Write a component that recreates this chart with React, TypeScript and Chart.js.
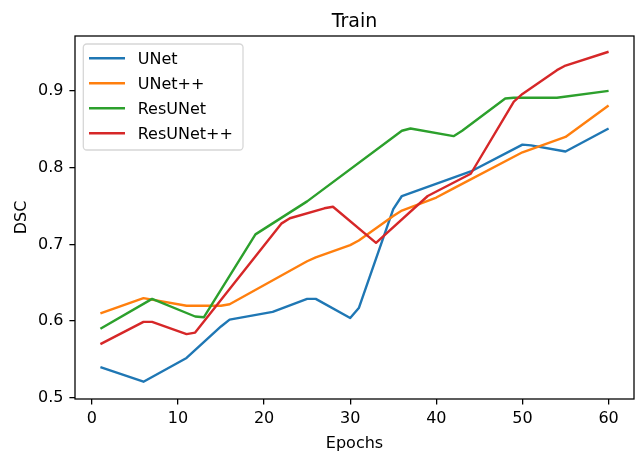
import React, { useEffect, useRef } from 'react';
import { Chart, registerables } from 'chart.js';

Chart.register(...registerables);

const FONT = "'DejaVu Sans', 'Liberation Sans', sans-serif";

const titleText = 'Train';
const xAxisTitle = 'Epochs';
const yAxisTitle = 'DSC';

const seriesNames = ['UNet', 'UNet++', 'ResUNet', 'ResUNet++'];
const seriesColors = ['#1f77b4', '#ff7f0e', '#2ca02c', '#d62728'];

const unetEpochs = [1, 6, 11, 15, 16, 21, 25, 26, 30, 31, 35, 36, 44, 50, 51, 55, 60];
const unetDSC = [0.54, 0.521, 0.552, 0.593, 0.602, 0.612, 0.629, 0.629, 0.604, 0.617, 0.746, 0.763, 0.795, 0.83, 0.829, 0.821, 0.851];

const unetppEpochs = [1, 6, 11, 15, 16, 25, 26, 30, 31, 35, 36, 40, 42, 50, 55, 60];
const unetppDSC = [0.61, 0.63, 0.62, 0.62, 0.622, 0.678, 0.683, 0.699, 0.705, 0.737, 0.744, 0.761, 0.773, 0.82, 0.84, 0.881];

const resunetEpochs = [1, 7, 12, 13, 19, 25, 36, 37, 42, 43, 48, 49, 54, 60];
const resunetDSC = [0.59, 0.629, 0.606, 0.605, 0.713, 0.756, 0.848, 0.851, 0.841, 0.848, 0.89, 0.891, 0.891, 0.9];

const resunetppEpochs = [1, 6, 7, 11, 12, 22, 23, 27, 28, 33, 39, 44, 49, 50, 54, 55, 60];
const resunetppDSC = [0.57, 0.599, 0.599, 0.583, 0.585, 0.727, 0.734, 0.747, 0.749, 0.702, 0.763, 0.792, 0.886, 0.896, 0.927, 0.933, 0.951];

const xTickValues = [0, 10, 20, 30, 40, 50, 60];
const xTickLabels = ['0', '10', '20', '30', '40', '50', '60'];
const yTickValues = [0.5, 0.6, 0.7, 0.8, 0.9];
const yTickLabels = ['0.5', '0.6', '0.7', '0.8', '0.9'];

const seriesEpochs = [unetEpochs, unetppEpochs, resunetEpochs, resunetppEpochs];
const seriesValues = [unetDSC, unetppDSC, resunetDSC, resunetppDSC];

const decorPlugin = {
  id: 'decor',
  afterDatasetsDraw(chart: any) {
    const { ctx, chartArea: a } = chart;
    ctx.save();
    // frame
    ctx.strokeStyle = '#000';
    ctx.lineWidth = 1.28;
    ctx.strokeRect(a.left, a.top, a.right - a.left, a.bottom - a.top);
    // title
    ctx.fillStyle = '#000';
    ctx.font = `19px ${FONT}`;
    ctx.textAlign = 'center';
    ctx.textBaseline = 'alphabetic';
    ctx.fillText(titleText, (a.left + a.right) / 2, 26.5);
    // legend
    const lx = a.left + 8.3;
    const ly = a.top + 8;
    const lw = 159.7;
    const lh = 106;
    const r = 3.5;
    ctx.beginPath();
    ctx.moveTo(lx + r, ly);
    ctx.lineTo(lx + lw - r, ly);
    ctx.arcTo(lx + lw, ly, lx + lw, ly + r, r);
    ctx.lineTo(lx + lw, ly + lh - r);
    ctx.arcTo(lx + lw, ly + lh, lx + lw - r, ly + lh, r);
    ctx.lineTo(lx + r, ly + lh);
    ctx.arcTo(lx, ly + lh, lx, ly + lh - r, r);
    ctx.lineTo(lx, ly + r);
    ctx.arcTo(lx, ly, lx + r, ly, r);
    ctx.closePath();
    ctx.fillStyle = 'rgba(255,255,255,0.8)';
    ctx.fill();
    ctx.strokeStyle = 'rgba(204,204,204,0.8)';
    ctx.lineWidth = 1.28;
    ctx.stroke();
    chart.data.datasets.forEach((ds: any, i: number) => {
      const y = ly + 14.3 + i * 25;
      ctx.beginPath();
      ctx.strokeStyle = ds.borderColor;
      ctx.lineWidth = 2.4;
      ctx.moveTo(lx + 5.7, y);
      ctx.lineTo(lx + 41.7, y);
      ctx.stroke();
      ctx.fillStyle = '#000';
      ctx.font = `16px ${FONT}`;
      ctx.textAlign = 'left';
      ctx.textBaseline = 'alphabetic';
      ctx.fillText(ds.label, lx + 54.4, y + 5.8);
    });
    ctx.restore();
  },
};

export default function App() {
  const ref = useRef<HTMLCanvasElement | null>(null);
  useEffect(() => {
    document.body.style.margin = '0';
    const canvas = ref.current;
    if (!canvas) return;
    const datasets = seriesNames.map((name, i) => ({
      label: name,
      data: seriesEpochs[i].map((e, j) => ({ x: e, y: seriesValues[i][j] })),
      borderColor: seriesColors[i],
      backgroundColor: seriesColors[i],
      borderWidth: 2.4,
      pointRadius: 0,
      tension: 0,
      fill: false,
      borderJoinStyle: 'round' as const,
      borderCapStyle: 'butt' as const,
      order: seriesNames.length - 1 - i,
    }));
    const chart = new Chart(canvas, {
      type: 'line',
      data: { datasets },
      options: {
        responsive: false,
        animation: false,
        devicePixelRatio: 1,
        layout: { padding: { top: 36, right: 4, left: 0, bottom: 0 } },
        plugins: {
          legend: { display: false },
          title: { display: false },
          tooltip: { enabled: false },
        },
        scales: {
          x: {
            type: 'linear',
            min: -1.95,
            max: 62.95,
            afterBuildTicks: (s: any) => {
              s.ticks = xTickValues.map((v) => ({ value: v }));
            },
            afterFit: (s: any) => {
              s.height = 54;
            },
            grid: { drawOnChartArea: false, drawTicks: true, tickLength: 5.6, color: '#000', lineWidth: 1.28 },
            border: { display: false },
            ticks: {
              padding: 4.8,
              color: '#000',
              font: { family: FONT, size: 16 },
              maxRotation: 0,
              autoSkip: false,
              callback: (_v: any, i: number) => xTickLabels[i],
            },
            title: {
              display: true,
              text: xAxisTitle,
              color: '#000',
              font: { family: FONT, size: 16, lineHeight: 1.1 },
              padding: { top: 0, bottom: 0 },
            },
          },
          y: {
            type: 'linear',
            min: 0.4985,
            max: 0.9715,
            afterBuildTicks: (s: any) => {
              s.ticks = yTickValues.map((v) => ({ value: v }));
            },
            afterFit: (s: any) => {
              s.width = 75;
            },
            grid: { drawOnChartArea: false, drawTicks: true, tickLength: 5.6, color: '#000', lineWidth: 1.28 },
            border: { display: false },
            ticks: {
              padding: 6,
              color: '#000',
              font: { family: FONT, size: 16 },
              autoSkip: false,
              callback: (_v: any, i: number) => yTickLabels[i],
            },
            title: {
              display: true,
              text: yAxisTitle,
              color: '#000',
              font: { family: FONT, size: 16, lineHeight: 1.1 },
              padding: { top: 13, bottom: 0 },
            },
          },
        },
      },
      plugins: [decorPlugin],
    });
    return () => chart.destroy();
  }, []);
  return <canvas ref={ref} width={638} height={453} style={{ display: 'block' }} />;
}
